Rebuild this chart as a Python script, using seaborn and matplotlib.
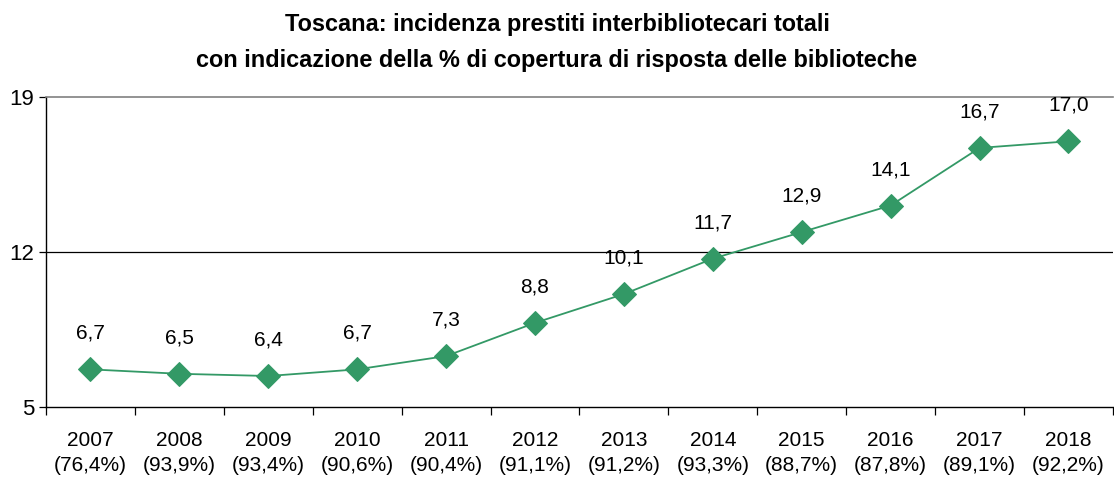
import matplotlib
matplotlib.use("Agg")
import matplotlib.pyplot as plt
import seaborn as sns
import pandas as pd

# data
years = ["2007", "2008", "2009", "2010", "2011", "2012",
         "2013", "2014", "2015", "2016", "2017", "2018"]
coverage = ["76,4%", "93,9%", "93,4%", "90,6%", "90,4%", "91,1%",
            "91,2%", "93,3%", "88,7%", "87,8%", "89,1%", "92,2%"]
incidenza = [6.7, 6.5, 6.4, 6.7, 7.3, 8.8, 10.1, 11.7, 12.9, 14.1, 16.7, 17.0]

sns.set_style("white")
plt.rcParams["font.family"] = ["Liberation Sans", "DejaVu Sans"]
plt.rcParams["text.color"] = "black"
plt.rcParams["xtick.color"] = "black"
plt.rcParams["ytick.color"] = "black"

df = pd.DataFrame({"pos": range(len(years)), "val": incidenza})

fig = plt.figure(figsize=(11.14, 4.79), dpi=100)
ax = fig.add_axes([0.0413, 0.1503, 0.9577, 0.6472])

green = "#339966"
sns.lineplot(data=df, x="pos", y="val", ax=ax, color=green, lw=1.3,
             marker="D", markersize=12, markeredgecolor=green)

for x, v in zip(df["pos"], df["val"]):
    ax.annotate(f"{v:.1f}".replace(".", ","), (x, v), xytext=(0, 19),
                textcoords="offset points", ha="center", va="bottom", fontsize=15)

ax.axhline(12, color="black", lw=0.9, zorder=0)

ax.set_xlim(-0.5, len(years) - 0.5)
ax.set_ylim(5, 19)
ax.set_yticks([5, 12, 19])
ax.tick_params(axis="y", labelsize=16, length=5, direction="out", left=True, width=0.9)

ax.set_xticks(range(len(years)))
ax.set_xticklabels([f"{y}\n({c})" for y, c in zip(years, coverage)], fontsize=15,
                   linespacing=1.42)
ax.tick_params(axis="x", length=0, pad=17)
ax.set_xticks([i - 0.5 for i in range(len(years) + 1)], minor=True)
ax.tick_params(axis="x", which="minor", length=6, direction="out", bottom=True, width=0.9)
ax.set_xlabel("")
ax.set_ylabel("")

for s in ["left", "bottom"]:
    ax.spines[s].set_color("black")
    ax.spines[s].set_linewidth(1.0)
ax.spines["top"].set_color("#808080")
ax.spines["top"].set_linewidth(1.2)
ax.spines["right"].set_visible(False)

fig.text(0.5, 0.972, "Toscana: incidenza prestiti interbibliotecari totali\n"
         "con indicazione della % di copertura di risposta delle biblioteche",
         ha="center", va="top", fontsize=16.9, fontweight="bold", linespacing=1.7)

fig.savefig("out.png", dpi=100)
